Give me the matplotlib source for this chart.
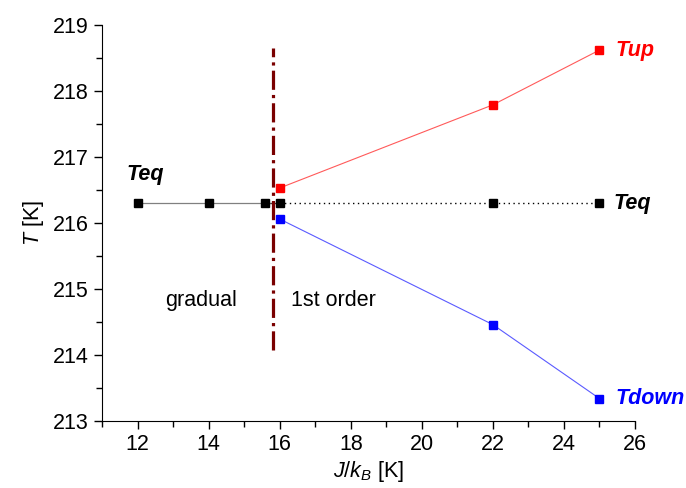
import matplotlib
matplotlib.use("Agg")
import matplotlib.pyplot as plt
from matplotlib.ticker import MultipleLocator

plt.rcParams['font.family'] = ['Liberation Sans', 'DejaVu Sans']
plt.rcParams['mathtext.fontset'] = 'custom'
plt.rcParams['mathtext.rm'] = 'Liberation Sans'
plt.rcParams['mathtext.it'] = 'Liberation Sans:italic'

# data
teq_x_grad = [12, 14, 15.6]
teq_y_grad = [216.3, 216.3, 216.3]
teq_x_first = [16, 22, 25]
teq_y_first = [216.3, 216.3, 216.3]
j_first = [16, 22, 25]
t_up = [216.53, 217.79, 218.62]
t_down = [216.06, 214.46, 213.34]
j_crit = 15.8

fs = 15.5

fig = plt.figure(figsize=(6.86, 4.88), dpi=100)
ax = fig.add_axes([0.1487, 0.1373, 0.777, 0.8115])

ax.plot(teq_x_grad, teq_y_grad, color='#808080', lw=0.9, zorder=2)
ax.plot([teq_x_grad[-1]] + teq_x_first, [teq_y_grad[-1]] + teq_y_first,
        color='black', lw=1.0, linestyle=(0, (1, 2.5)), zorder=2)
ax.plot(teq_x_grad + teq_x_first, teq_y_grad + teq_y_first, 's',
        color='black', ms=5.5, zorder=4)
ax.plot(j_first, t_up, '-s', color='#ff5a5a', mfc='red', mec='red', lw=0.8, ms=5.5, zorder=3)
ax.plot(j_first, t_down, '-s', color='#5a5aff', mfc='blue', mec='blue', lw=0.8, ms=5.5, zorder=3)

ax.plot([j_crit, j_crit], [214.08, 218.65], color='#7a0000', lw=2.3,
        linestyle=(0, (6, 1.6, 1, 1.6)), zorder=5)

bi = dict(fontsize=fs, fontweight='bold', fontstyle='italic')
ax.text(11.7, 216.73, 'Teq', color='black', va='center', ha='left', **bi)
ax.text(25.4, 216.3, 'Teq', color='black', va='center', ha='left', **bi)
ax.text(25.45, 218.62, 'Tup', color='red', va='center', ha='left', **bi)
ax.text(25.45, 213.34, 'Tdown', color='blue', va='center', ha='left', **bi)
ax.text(13.8, 214.83, 'gradual', fontsize=fs, ha='center', va='center')
ax.text(17.5, 214.83, '1st order', fontsize=fs, ha='center', va='center')

ax.set_xlim(11, 26)
ax.set_ylim(213, 219)
ax.xaxis.set_major_locator(MultipleLocator(2))
ax.xaxis.set_minor_locator(MultipleLocator(1))
ax.yaxis.set_major_locator(MultipleLocator(1))
ax.yaxis.set_minor_locator(MultipleLocator(0.5))
ax.tick_params(which='major', direction='out', length=6, width=1, labelsize=fs)
ax.tick_params(which='minor', direction='out', length=4, width=1)
ax.spines['top'].set_visible(False)
ax.spines['right'].set_visible(False)

ax.set_xlabel('$J/k_B$ [K]', fontsize=fs, labelpad=3)
ax.set_ylabel('$T$ [K]', fontsize=fs, labelpad=5)

fig.savefig('out.png', dpi=100)
